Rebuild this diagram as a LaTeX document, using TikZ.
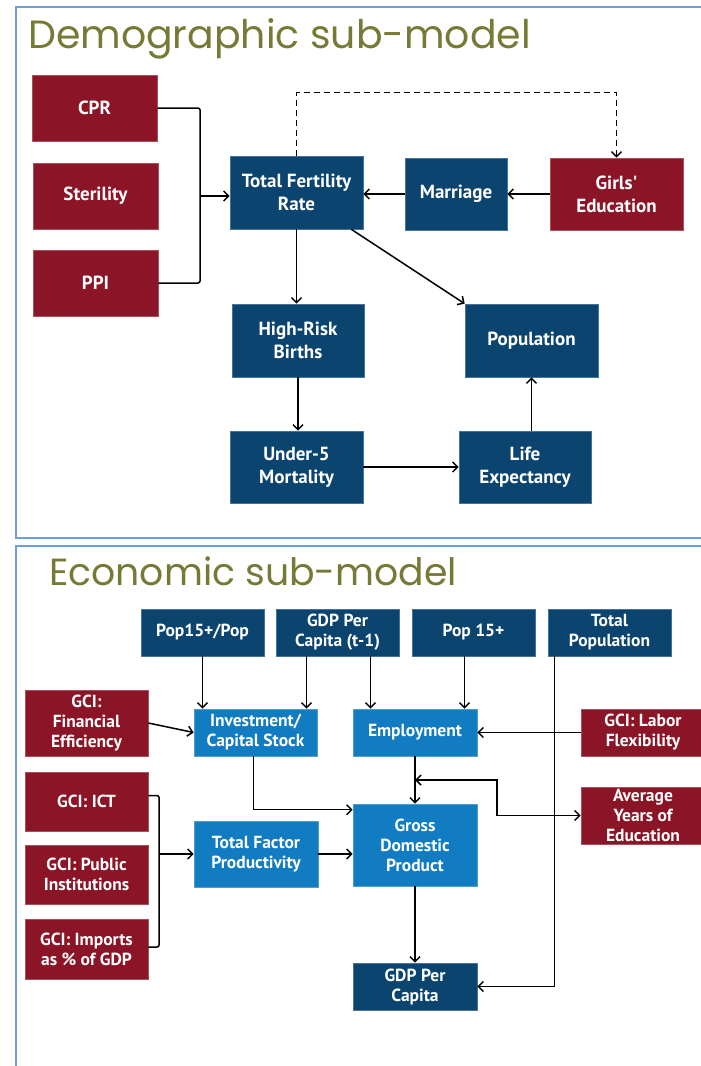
\documentclass[tikz,border=0pt]{standalone}
\usepackage{fontspec}
\newfontfamily\boxfont{PT Sans}
\newfontfamily\titlefont{Poppins}
\usetikzlibrary{positioning,arrows.meta}
\definecolor{gcired}{RGB}{139,21,38}
\definecolor{navy}{RGB}{12,68,112}
\definecolor{midblue}{RGB}{18,124,194}
\definecolor{olive}{RGB}{118,122,52}
\definecolor{panelblue}{RGB}{110,158,216}

\begin{document}
\begin{tikzpicture}[x=1pt,y=-1pt,
    >={Straight Barb[length=5pt,width=10pt]},
    link/.style={line width=1.5pt},
    sz/.style 2 args={minimum width=#1pt,minimum height=#2pt},
    box/.style={inner sep=1pt,align=center,text=white,line width=0.6pt},
    topbox/.style={box,font=\boxfont\bfseries\fontsize{19}{23}\selectfont},
    lowbox/.style={box,font=\boxfont\bfseries\fontsize{17.5}{20}\selectfont},
    redbox/.style={fill=gcired,draw=gcired!75!white},
    navybox/.style={fill=navy,draw=navy!75!white},
    bluebox/.style={fill=midblue,draw=midblue!75!white},
    panel/.style={draw=panelblue,line width=1.6pt},
    heading/.style={anchor=base west,inner sep=0pt,text=olive,font=\titlefont}]
  \clip (0,0) rectangle (701,1066);
  \fill[white] (0,0) rectangle (701,1066);
  \draw[panel] (16,7) rectangle (720,538);
  \draw[panel] (16,546) rectangle (720,1090);
  \node[heading,font=\titlefont\fontsize{39.4}{44}\selectfont] (demotitle) at (28,48) {Demographic sub-model};
  \node[heading,font=\titlefont\fontsize{37.8}{44}\selectfont] (econtitle) at (49,585) {Economic sub-model};

  \node[topbox,redbox,sz={125}{66}] (cpr) at (94.5,108) {CPR};
  \node[topbox,redbox,sz={125}{66}] (steril) at (95.5,196) {Sterility};
  \node[topbox,redbox,sz={125}{66}] (ppi) at (95.5,283) {PPI};
  \node[topbox,navybox,sz={133}{73}] (tfr) at (296.5,192.5) {Total Fertility\\Rate};
  \node[topbox,navybox,sz={102}{72}] (marr) at (456,194) {Marriage};
  \node[topbox,redbox,sz={133}{72}] (girls) at (616.5,194) {Girls'\\Education};
  \node[topbox,navybox,sz={132}{73}] (hrb) at (298,340.5) {High-Risk\\Births};
  \node[topbox,navybox,sz={133}{73}] (pop) at (531.5,340.5) {Population};
  \node[topbox,navybox,sz={133}{72}] (u5m) at (296.5,467) {Under-5\\Mortality};
  \node[topbox,navybox,sz={132}{72}] (life) at (525,467) {Life\\Expectancy};

  \coordinate (fertin) at (200,196);
  \draw[link,rounded corners=2pt] (cpr.east) -| (fertin) |- (ppi.east);
  \draw[link,->] (fertin) -- (fertin -| tfr.west);
  \draw[link,dash pattern=on 6pt off 4pt,->] (tfr.north) -- ++(0,-63) -| (girls.north);
  \draw[link,->] (marr.west) -- (marr.west -| tfr.east);
  \draw[link,->] (girls.west) -- (girls.west -| marr.east);
  \draw[link,->] (tfr.south) -- (tfr.south |- hrb.north);
  \draw[link,->] ([xshift=-12pt]tfr.south east) -- (pop.north west);
  \draw[link,->] (hrb.south) -- (hrb.south |- u5m.north);
  \draw[link,->] (u5m.east) -- (u5m.east -| life.west);
  \draw[link,->] (pop.south |- life.north) -- (pop.south);

  \node[lowbox,navybox,sz={123}{47}] (popratio) at (202.5,632.5) {Pop15+/Pop};
  \node[lowbox,navybox,sz={123}{47}] (gdplag) at (337.5,632.5) {GDP Per\\Capita (t-1)};
  \node[lowbox,navybox,sz={123}{47}] (popadult) at (473.5,632.5) {Pop 15+};
  \node[lowbox,navybox,sz={123}{47}] (totpop) at (609.5,632.5) {Total\\Population};
  \node[lowbox,redbox,sz={123}{66}] (finance) at (86.5,723) {GCI:\\Financial\\Efficiency};
  \node[lowbox,bluebox,sz={123}{47}] (invest) at (255.5,732.5) {Investment/\\Capital Stock};
  \node[lowbox,bluebox,sz={124}{47}] (employ) at (415,732.5) {Employment};
  \node[lowbox,redbox,sz={124}{47}] (labor) at (643,732.5) {GCI: Labor\\Flexibility};
  \node[lowbox,redbox,sz={123}{59}] (ict) at (86.5,801.5) {GCI: ICT};
  \node[lowbox,redbox,sz={123}{59}] (publ) at (86.5,874.5) {GCI: Public\\Institutions};
  \node[lowbox,redbox,sz={123}{60}] (imports) at (86.5,949) {GCI: Imports\\as \% of GDP};
  \node[lowbox,bluebox,sz={124}{66}] (tfp) at (256,854) {Total Factor\\Productivity};
  \node[lowbox,bluebox,sz={124}{82}] (gdp) at (415,845) {Gross\\Domestic\\Product};
  \node[lowbox,redbox,sz={124}{57}] (school) at (643,815.5) {Average\\Years of\\Education};
  \node[lowbox,navybox,sz={124}{47}] (gdppc) at (415,986.5) {GDP Per\\Capita};

  \draw[link,->] (popratio.south) -- (popratio.south |- invest.north);
  \draw[link,->] ([xshift=-31pt]gdplag.south) -- ([xshift=-31pt]gdplag.south |- invest.north);
  \draw[link,->] ([xshift=33pt]gdplag.south) -- ([xshift=33pt]gdplag.south |- employ.north);
  \draw[link,->] ([xshift=-9pt]popadult.south) -- ([xshift=-9pt]popadult.south |- employ.north);
  \draw[link,->] (finance.east) -- (invest.west);
  \draw[link,->] (labor.west) -- (employ.east);
  \draw[link,->] ([xshift=-55pt]totpop.south) |- (gdppc.east);
  \coordinate (tfpin) at (159,854);
  \draw[link,rounded corners=2pt] ([yshift=6pt]ict.east) -| (tfpin) |- ([yshift=2pt]imports.east);
  \draw[link,->] (tfpin) -- (tfp.west);
  \draw[link,->] (tfp.east) -- (tfp.east -| gdp.west);
  \draw[link,->] ([xshift=-2pt]invest.south) |- ([yshift=-6pt]gdp.north west);
  \draw[link,->] (employ.south) -- (gdp.north);
  \coordinate (edufb) at (497,780);
  \draw[link,<->] (employ.south |- edufb) -- (edufb) |- (school.west);
  \draw[link,->] (gdp.south) -- (gdppc.north);
\end{tikzpicture}
\end{document}
